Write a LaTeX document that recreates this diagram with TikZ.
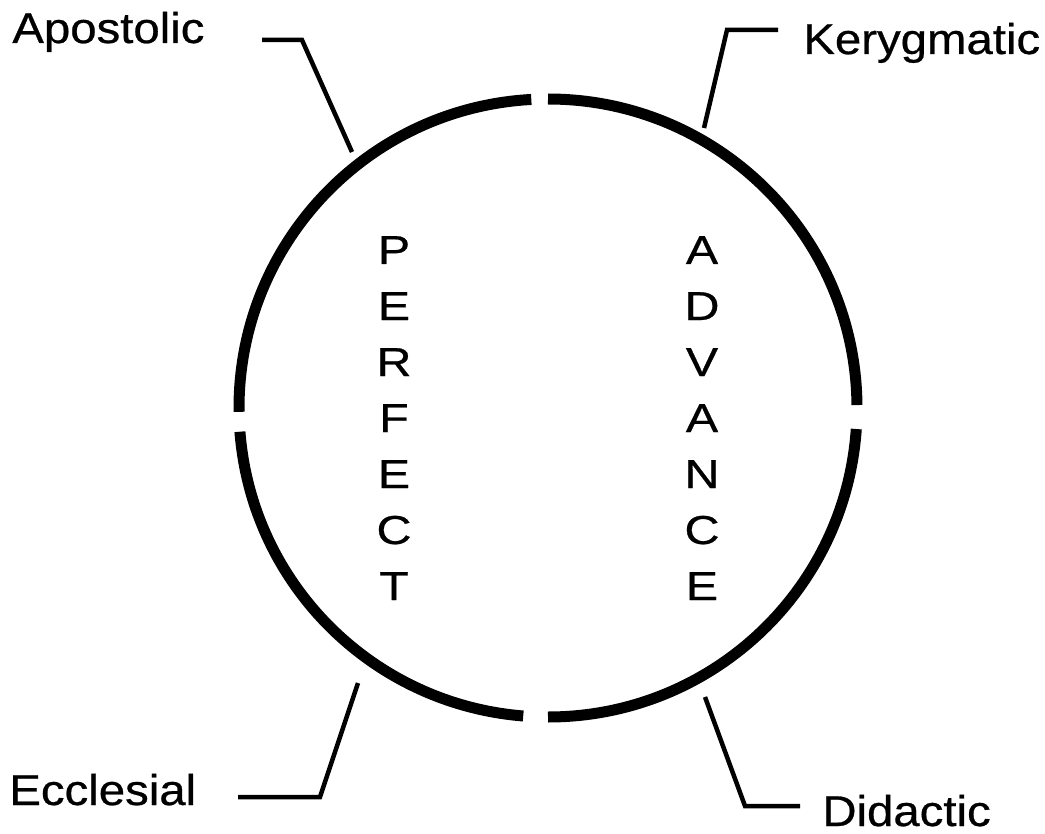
\documentclass[tikz,border=0pt]{standalone}
\usepackage{fontspec}
\setmainfont{Liberation Sans}
\newfontfamily\widesans[FakeStretch=1.1, FakeBold=0.6]{Liberation Sans}
\newfontfamily\lettersans[FakeStretch=1.2, FakeBold=0.6]{Liberation Sans}
\usetikzlibrary{positioning}

\begin{document}
\begin{tikzpicture}[x=0.02cm, y=0.02cm,
    rim/.style={line width=0.22cm, line cap=butt},
    leader/.style={line width=0.09cm, line join=miter},
    tag/.style={font=\widesans\fontsize{24.5}{29}\selectfont, inner sep=0pt, anchor=base west},
    letter/.style={font=\lettersans\fontsize{23}{27}\selectfont, inner sep=0pt, anchor=base}
  ]
  \useasboundingbox (0,0) rectangle (1045,833);
  \coordinate (c) at (548,425);

  % ring in four arcs
  \foreach \a/\b in {93.1/180.7, 184.4/265.4, 270/356.1, 0.55/90} {
    \draw[rim] ([shift={(\a:309)}]c) arc[start angle=\a, end angle=\b, radius=309];
  }

  % side labels
  \node[tag] (apostolic) at (12,790) {Apostolic};
  \node[tag] (kerygmatic) at (803,779) {Kerygmatic};
  \node[tag] (ecclesial) at (9,28) {Ecclesial};
  \node[tag] (didactic) at (822,7) {Didactic};

  % leader lines
  \coordinate (apo-start) at (262,793);
  \coordinate (apo-knee) at (302,793);
  \coordinate (apo-tip) at (352,681);
  \coordinate (ker-start) at (778,803);
  \coordinate (ker-knee) at (727,803);
  \coordinate (ker-tip) at (704,705);
  \coordinate (ecc-start) at (238,36);
  \coordinate (ecc-knee) at (320,36);
  \coordinate (ecc-tip) at (358,150);
  \coordinate (did-tip) at (705,136);
  \coordinate (did-knee) at (745,27);
  \coordinate (did-start) at (800,27);
  \draw[leader] (apo-start) -- (apo-knee) -- (apo-tip);
  \draw[leader] (ker-start) -- (ker-knee) -- (ker-tip);
  \draw[leader] (ecc-start) -- (ecc-knee) -- (ecc-tip);
  \draw[leader] (did-start) -- (did-knee) -- (did-tip);

  % vertical words
  \foreach \ch [count=\i] in {P,E,R,F,E,C,T}
    \node[letter] (perfect-\i) at (394,{569-(\i-1)*56}) {\ch};
  \foreach \ch [count=\i] in {A,D,V,A,N,C,E}
    \node[letter] (advance-\i) at (702,{569-(\i-1)*56}) {\ch};
\end{tikzpicture}
\end{document}
